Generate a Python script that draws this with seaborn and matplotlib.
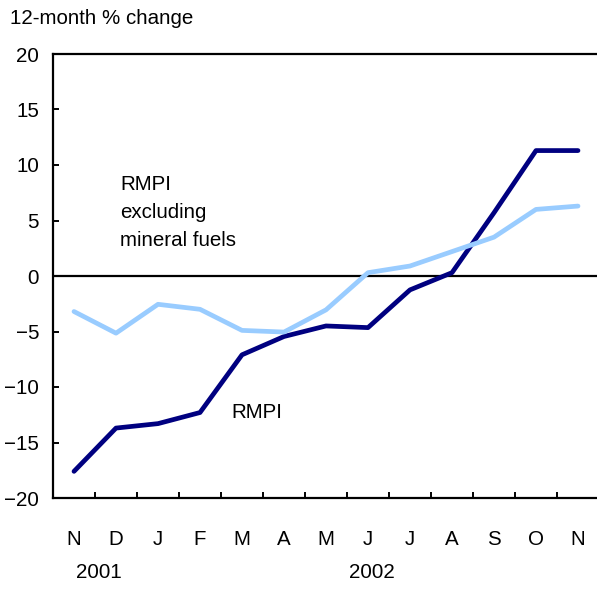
import matplotlib
matplotlib.use("Agg")
import matplotlib.pyplot as plt
import matplotlib.transforms as mtransforms
import seaborn as sns
import pandas as pd

months = ["N", "D", "J", "F", "M", "A", "M", "J", "J", "A", "S", "O", "N"]
rmpi = [-17.6, -13.7, -13.3, -12.3, -7.1, -5.45, -4.5, -4.65, -1.25, 0.3, 5.7, 11.3, 11.3]
rmpi_ex_fuels = [-3.2, -5.15, -2.55, -3.0, -4.9, -5.05, -3.05, 0.3, 0.9, 2.2, 3.5, 6.0, 6.3]
years = ["2001", "2002"]
year_pos = [0.6, 7.1]

sns.set_style("white")
plt.rcParams["font.family"] = ["Liberation Sans", "DejaVu Sans"]
plt.rcParams["text.color"] = "black"

FS = 14.8

n = len(months)
df = pd.DataFrame({
    "idx": list(range(n)) * 2,
    "value": rmpi + rmpi_ex_fuels,
    "series": ["RMPI"] * n + ["RMPI excluding mineral fuels"] * n,
})

fig = plt.figure(figsize=(5.97, 5.96), dpi=100)
W, H = 597, 596
ax = fig.add_axes([53 / W, (H - 498) / H, 546 / W, 444 / H])

ax.axhline(0, color="black", lw=1.6, zorder=1)
sns.lineplot(data=df, x="idx", y="value", hue="series",
             palette={"RMPI": "#000080", "RMPI excluding mineral fuels": "#99ccff"},
             linewidth=3.4, legend=False, ax=ax, zorder=3)
ax.set_xlim(-0.5, 12.5)
ax.set_ylim(-20, 20)
ax.set_xlabel("")
ax.set_ylabel("")

for s in ["left", "bottom", "top"]:
    ax.spines[s].set_color("black")
    ax.spines[s].set_linewidth(1.6)
ax.spines["right"].set_visible(False)

ax.set_yticks(range(-20, 21, 5))
ax.tick_params(axis="y", direction="in", length=4, width=1.4, pad=10,
               labelsize=FS, color="black", labelcolor="black", left=True)
ax.set_xticks(range(n))
ax.set_xticklabels(months)
ax.set_xticks([i + 0.5 for i in range(n - 1)], minor=True)
ax.tick_params(axis="x", which="major", length=0, pad=23, labelsize=FS, labelcolor="black")
ax.tick_params(axis="x", which="minor", direction="in", length=4, width=1.4, color="black", bottom=True)

trans = mtransforms.blended_transform_factory(ax.transData, ax.transAxes)
for yl, xp in zip(years, year_pos):
    ax.text(xp, -0.167, yl, transform=trans, ha="center", va="center", fontsize=FS)

ax.text(1.1, 5.75, "RMPI\nexcluding\nmineral fuels", ha="left", va="center",
        fontsize=FS, linespacing=1.6)
ax.text(4.35, -12.3, "RMPI", ha="center", va="center", fontsize=FS)

fig.text(10 / W, 1 - 18 / H, "12-month % change", ha="left", va="center", fontsize=FS)

fig.savefig("out.png", dpi=100)
